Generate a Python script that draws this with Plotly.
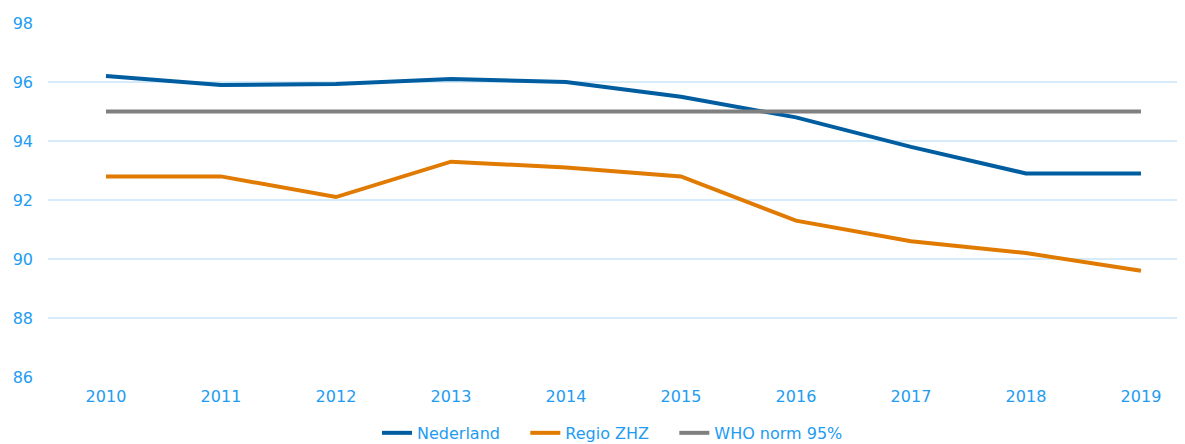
import plotly.graph_objects as go

years = [2010, 2011, 2012, 2013, 2014, 2015, 2016, 2017, 2018, 2019]
nederland = [96.2, 95.9, 95.93, 96.1, 96.0, 95.5, 94.8, 93.8, 92.9, 92.9]
regio_zhz = [92.8, 92.8, 92.1, 93.3, 93.1, 92.8, 91.3, 90.6, 90.2, 89.6]
who_norm = [95, 95, 95, 95, 95, 95, 95, 95, 95, 95]
y_ticks = [86, 88, 90, 92, 94, 96, 98]

text_color = "#229CF2"
font_family = "DejaVu Sans"
pad = "\u00a0" * 4

fig = go.Figure()
fig.add_trace(go.Scatter(x=years, y=nederland, mode="lines", name="Nederland" + pad,
                         line=dict(color="#005DA0", width=4)))
fig.add_trace(go.Scatter(x=years, y=regio_zhz, mode="lines", name="Regio ZHZ" + pad,
                         line=dict(color="#E07A00", width=4)))
fig.add_trace(go.Scatter(x=years, y=who_norm, mode="lines", name="WHO norm 95%",
                         line=dict(color="#808080", width=4)))

fig.update_layout(
    width=1177, height=436,
    margin=dict(l=40, r=0, t=15, b=67, autoexpand=False),
    paper_bgcolor="white", plot_bgcolor="white",
    font=dict(family=font_family, size=16, color=text_color),
    showlegend=True,
    legend=dict(orientation="h", x=0.4965, xanchor="center", y=-0.158, yanchor="middle",
                font=dict(family=font_family, size=16, color=text_color),
                itemwidth=30, tracegroupgap=0),
    xaxis=dict(range=[2009.496, 2019.383], tickmode="array", tickvals=years,
               ticktext=[str(y) for y in years], showgrid=False, zeroline=False,
               showline=False, ticks="", ticklabelstandoff=8, automargin=False),
    yaxis=dict(range=[86, 98], tickmode="array", tickvals=y_ticks,
               showgrid=True, gridcolor="#D6ECFA", gridwidth=1.5, zeroline=False,
               showline=False, ticks="", ticklabelstandoff=14, automargin=False),
)

fig.write_html("out.html")
